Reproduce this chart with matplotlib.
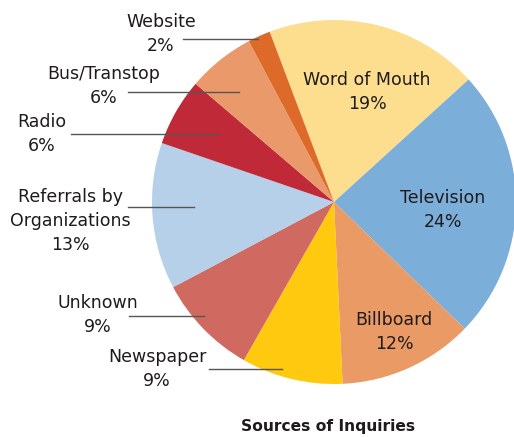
import matplotlib.pyplot as plt

# data (clockwise from the top)
labels = ['Word of Mouth', 'Television', 'Billboard', 'Newspaper', 'Unknown',
          'Referrals by\nOrganizations', 'Radio', 'Bus/Transtop', 'Website']
shares = [19, 24, 12, 9, 9, 13, 6, 6, 2]
colors = ['#FDDE8F', '#7BAED9', '#EA9A64', '#FEC90F', '#D0695F',
          '#B5D0E8', '#C02A38', '#E9996A', '#DE6A2A']

W, H = 514, 437
fig = plt.figure(figsize=(W / 100, H / 100), dpi=100)
ax = fig.add_axes([0, 0, 1, 1])

plt.rcParams['font.family'] = ['DejaVu Sans']
txt = '#1E1B1C'

cx, cy, r = 334, H - 202, 182
ax.pie(shares, colors=colors, startangle=110.7, counterclock=False,
       center=(cx, cy), radius=r, frame=True,
       wedgeprops=dict(linewidth=0))
ax.set_xlim(0, W)
ax.set_ylim(0, H)
ax.set_aspect('equal')
ax.axis('off')

fs = 12.5
ls = 1.45
# labels inside the pie
inside = {0: (367, 92), 1: (443, 210), 2: (394, 332)}
for i, (x, y) in inside.items():
    ax.text(x, H - y, f'{labels[i]}\n{shares[i]}%', ha='center', va='center',
            fontsize=fs, color=txt, linespacing=ls)

# labels outside with leader lines: (text x, text y, line x0, line x1, line y)
outside = {
    8: (161, 34, 183, 258, 39),
    7: (104, 86, 128, 239, 92),
    6: (42, 134, 71, 218, 134),
    5: (70, 221, 128, 194, 207),
    4: (98, 315, 129, 204, 316),
    3: (157, 369, 209, 282, 369),
}
for i, (tx, ty, x0, x1, ly) in outside.items():
    ax.text(tx, H - ty, f'{labels[i]}\n{shares[i]}%', ha='center', va='center',
            fontsize=fs, color=txt, linespacing=ls)
    ax.plot([x0, x1], [H - ly, H - ly], color='#555555', lw=1)

ax.text(328, H - 427, 'Sources of Inquiries', ha='center', va='center',
        fontsize=11.2, fontweight='bold', color=txt)

fig.savefig('out.png', dpi=100)
